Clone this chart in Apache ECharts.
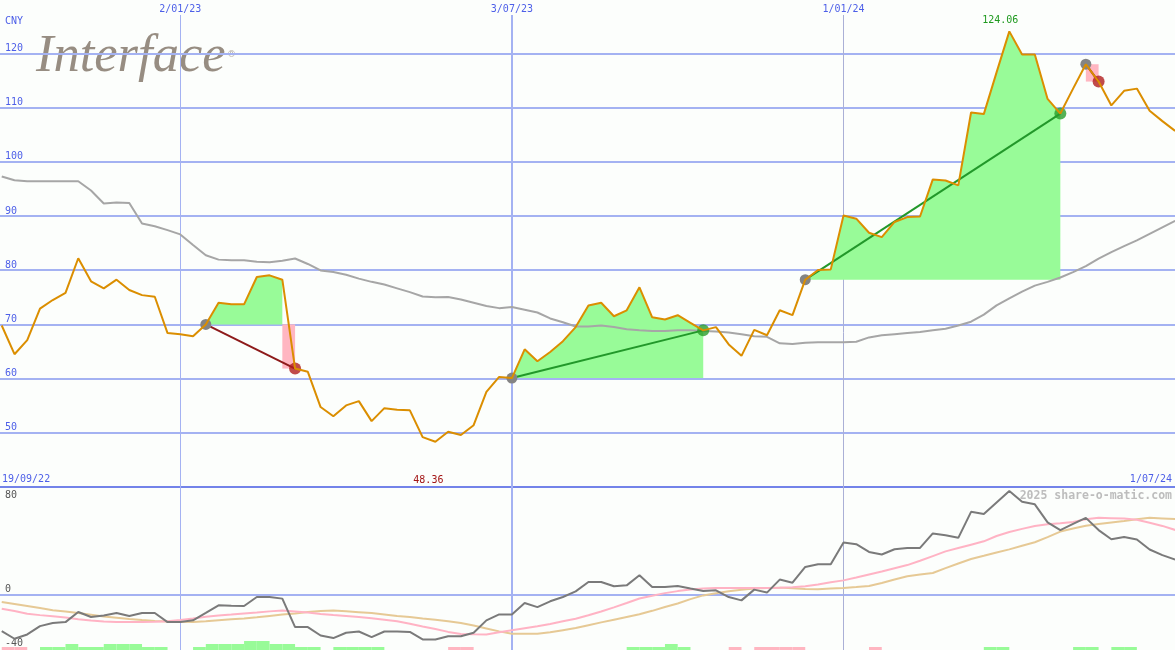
<!DOCTYPE html>
<html><head><meta charset="utf-8">
<script src="https://cdn.jsdelivr.net/npm/echarts@6/dist/echarts.min.js"></script>
<style>html,body{margin:0;padding:0;background:#fcfefc;}#c{width:1175px;height:650px;}</style>
</head><body><div id="c"></div>
<script>
// ---- data (weekly, index 0 = first visible week) ----
const price = [
  69.8, 64.5, 67.1, 72.9, 74.5, 75.8, 82.2, 77.95, 76.65, 78.25,
  76.35, 75.4, 75.1, 68.4, 68.2, 67.8, 70.0, 74.0, 73.7, 73.7,
  78.75, 79.05, 78.25, 61.85, 61.25, 54.75, 53.05, 55.05, 55.85, 52.15,
  54.55, 54.25, 54.15, 49.2, 48.36, 50.2, 49.6, 51.4, 57.55, 60.3,
  60.1, 65.4, 63.2, 64.9, 66.9, 69.5, 73.5, 74.0, 71.5, 72.6,
  76.85, 71.3, 70.9, 71.7, 70.3, 68.9, 69.5, 66.3, 64.2, 69.0,
  68.0, 72.6, 71.7, 78.25, 80.05, 80.15, 90.1, 89.5, 86.9, 86.1,
  88.9, 89.8, 89.9, 96.75, 96.55, 95.65, 109.1, 108.8, 116.5, 124.06,
  119.8, 119.8, 111.6, 108.9, 113.5, 118.0, 114.8, 110.4, 113.1, 113.5,
  109.4, 107.5, 105.7
];
const movingAvg = [
  97.3, 96.6, 96.4, 96.4, 96.4, 96.4, 96.4, 94.7, 92.3, 92.5,
  92.4, 88.6, 88.1, 87.4, 86.6, 84.65, 82.75, 81.95, 81.85, 81.85,
  81.55, 81.45, 81.75, 82.15, 81.15, 79.95, 79.65, 79.15, 78.45, 77.85,
  77.35, 76.65, 75.95, 75.15, 75.0, 75.05, 74.6, 74.0, 73.4, 73.0,
  73.2, 72.7, 72.2, 71.1, 70.4, 69.6, 69.6, 69.8, 69.5, 69.1,
  68.9, 68.8, 68.8, 68.9, 68.9, 68.8, 68.7, 68.5, 68.2, 67.8,
  67.7, 66.5, 66.4, 66.6, 66.7, 66.7, 66.7, 66.8, 67.6, 68.0,
  68.2, 68.4, 68.6, 68.9, 69.2, 69.8, 70.5, 71.8, 73.5, 74.8,
  76.05, 77.15, 77.85, 78.65, 79.65, 80.75, 82.15, 83.35, 84.45, 85.5,
  86.7, 87.9, 89.1
];
const oscillator = [
  -27.4, -33.1, -29.9, -23.7, -21.4, -20.7, -13.2, -16.9, -15.7, -13.9,
  -16.2, -13.9, -13.9, -20.7, -20.7, -19.4, -13.9, -8.2, -8.5, -8.7,
  -2.0, -2.0, -3.2, -24.4, -24.4, -30.7, -32.6, -28.6, -27.7, -31.9,
  -27.7, -27.7, -28.0, -33.6, -33.6, -31.2, -31.2, -28.6, -19.4, -15.0,
  -15.0, -6.5, -9.5, -5.2, -2.0, 2.2, 9.2, 9.2, 6.0, 6.7,
  14.2, 5.5, 5.5, 6.2, 4.3, 2.5, 3.0, -2.0, -4.5, 3.5,
  1.3, 11.0, 8.7, 20.4, 22.4, 22.4, 38.6, 37.4, 31.6, 29.7,
  33.6, 34.6, 34.6, 45.4, 44.1, 42.1, 61.5, 59.8, 68.5, 77.0,
  69.0, 67.1, 53.6, 47.9, 52.5, 57.0, 47.9, 41.1, 42.8, 40.9,
  33.4, 29.2, 25.9
];
const signalPink = [
  -10.7, -12.5, -14.4, -15.5, -16.4, -17.3, -18.5, -19.5, -20.3, -20.7,
  -20.7, -20.7, -20.5, -20.0, -19.2, -18.0, -16.7, -15.7, -15.0, -14.2,
  -13.5, -12.7, -12.0, -12.8, -13.6, -14.6, -15.4, -16.1, -16.9, -17.9,
  -19.0, -20.1, -22.0, -24.0, -25.8, -28.0, -29.5, -29.8, -29.9, -28.3,
  -26.8, -25.3, -23.8, -22.1, -20.1, -18.2, -15.6, -12.8, -9.7, -6.5,
  -3.1, -1.0, 0.9, 2.4, 3.6, 4.4, 4.7, 4.7, 4.7, 4.7,
  4.7, 4.9, 5.3, 6.0, 7.3, 9.0, 10.4, 12.5, 14.8, 17.0,
  19.5, 21.8, 25.0, 28.5, 32.0, 34.5, 37.0, 39.5, 43.5, 46.5,
  48.8, 51.0, 52.2, 52.9, 54.0, 56.0, 57.0, 56.8, 56.5, 55.6,
  53.4, 51.0, 48.0
];
const signalTan = [
  -5.7, -7.2, -8.7, -10.2, -11.8, -12.8, -14.0, -15.2, -16.5, -17.4,
  -18.4, -19.2, -19.8, -20.2, -20.5, -20.6, -20.0, -19.3, -18.6, -18.0,
  -17.1, -16.1, -15.1, -14.2, -13.2, -12.5, -12.0, -12.6, -13.3, -14.0,
  -15.0, -16.1, -16.9, -18.0, -19.0, -20.1, -21.4, -23.2, -25.4, -27.6,
  -29.4, -29.4, -29.4, -28.3, -26.7, -25.1, -23.0, -20.9, -18.9, -16.9,
  -14.9, -12.3, -9.5, -6.8, -3.6, -0.8, 0.8, 2.3, 3.4, 4.4,
  4.8, 5.0, 4.5, 4.0, 3.8, 4.3, 4.8, 5.4, 6.2, 8.5,
  11.0, 13.5, 14.8, 15.9, 19.5, 23.0, 26.3, 28.7, 31.2, 33.5,
  36.2, 38.8, 42.6, 46.8, 49.0, 51.1, 52.4, 53.5, 54.6, 56.0,
  57.0, 56.6, 56.1
];
const histogram = [
  -1, -1, 0, 1, 1, 2, 1, 1, 2, 2,
  2, 1, 1, 0, 0, 1, 2, 2, 2, 3,
  3, 2, 2, 1, 1, 0, 1, 1, 1, 1,
  0, 0, 0, 0, 0, -1, -1, 0, 0, 0,
  0, 0, 0, 0, 0, 0, 0, 0, 0, 1,
  1, 1, 2, 1, 0, 0, 0, -1, 0, -1,
  -1, -1, -1, 0, 0, 0, 0, 0, -1, 0,
  0, 0, 0, 0, 0, 0, 0, 1, 1, 0,
  0, 0, 0, 0, 1, 1, 0, 1, 1, 0,
  0, 0, 0
];
const trades = [[16, 23], [40, 55], [63, 83], [85, 86]]; // [entry week, exit week]
const dateMarks = [['2/01/23', 14], ['3/07/23', 40], ['1/01/24', 66]];
const priceTicks = [50, 60, 70, 80, 90, 100, 110, 120];
const oscTicksLow = [-40, 0];
const oscTicksHigh = [80];
const startLabel = '19/09/22', endLabel = '1/07/24', currency = 'CNY';
const brand = 'Interface', credit = '2025 share-o-matic.com';

// ---- styles ----
const BG = '#fcfefc', BLUE = '#4d5fe8', GRID = '#a4b2f2', SEP = '#7383e9';
const MONO = '"DejaVu Sans Mono", monospace';
const dateLineStyles = [{color: '#a4b2f2', width: 1}, {color: '#a4b2f2', width: 2}, {color: '#aab0d6', width: 1}];
const X_MIN = -0.136, X_MAX = 91.99;

const chart = echarts.init(document.getElementById('c'), null, {renderer: 'canvas'});
const series = [];

// vertical date lines + labels
series.push({
  type: 'custom', xAxisIndex: 0, yAxisIndex: 0, clip: false, z: 1, silent: true,
  data: dateMarks.map(d => [d[1], 100]),
  renderItem(params, api) {
    const i = params.dataIndex;
    const x0 = api.coord([api.value(0), 100])[0];
    const st = dateLineStyles[i];
    const x = st.width % 2 ? Math.round(x0 - 0.5) + 0.5 : Math.round(x0);
    return {type: 'group', children: [
      {type: 'line', shape: {x1: x, y1: 15, x2: x, y2: 650}, style: {stroke: st.color, lineWidth: st.width}},
      {type: 'text', x: x0, y: 9, style: {text: dateMarks[i][0], fill: BLUE, font: '10px ' + MONO, align: 'center', verticalAlign: 'middle', textAlign: 'center', textVerticalAlign: 'middle'}}
    ]};
  }
});

// green gain areas
trades.forEach(([a, b]) => {
  const base = price[a];
  let end = b;
  if (price[b] < base) { end = a; for (let j = a + 1; j < b; j++) if (price[j] > base) end = j; }
  if (end > a) {
    const d = []; for (let j = a; j <= end; j++) d.push([j, price[j]]);
    series.push({type: 'line', xAxisIndex: 0, yAxisIndex: 0, data: d, symbol: 'none', silent: true, z: 2,
      lineStyle: {width: 0}, areaStyle: {color: '#98fb98', opacity: 1, origin: base}});
  }
});

// pink loss blocks
series.push({
  type: 'custom', xAxisIndex: 0, yAxisIndex: 0, z: 2, silent: true,
  data: trades.filter(([a, b]) => price[b] < price[a]).map(([a, b]) => [b, price[a], price[b]]),
  renderItem(params, api) {
    const p0 = api.coord([api.value(0) - 1, api.value(1)]);
    const p1 = api.coord([api.value(0), api.value(2)]);
    return {type: 'rect', shape: {x: p0[0], y: p0[1], width: p1[0] - p0[0], height: p1[1] - p0[1]}, style: {fill: '#ffb6c1'}};
  }
});

// moving average
series.push({type: 'line', xAxisIndex: 0, yAxisIndex: 0, data: movingAvg.map((v, j) => [j, v]), symbol: 'none', z: 3, silent: true,
  lineStyle: {color: '#a6a6a6', width: 2}});

// trade lines
trades.forEach(([a, b]) => {
  const win = price[b] >= price[a];
  series.push({type: 'line', xAxisIndex: 0, yAxisIndex: 0, data: [[a, price[a]], [b, price[b]]], symbol: 'none', z: 4, silent: true,
    lineStyle: {color: win ? '#22982a' : '#8e1b1b', width: 2}});
});

// entry / exit dots
series.push({type: 'scatter', xAxisIndex: 0, yAxisIndex: 0, z: 5, silent: true, symbolSize: 11,
  data: trades.map(([a]) => [a, price[a]]), itemStyle: {color: '#848484', opacity: 1}});
series.push({type: 'scatter', xAxisIndex: 0, yAxisIndex: 0, z: 5, silent: true, symbolSize: 12,
  data: trades.map(([a, b]) => ({value: [b, price[b]], itemStyle: {color: price[b] >= price[a] ? '#2a9e2a' : '#b01e1e'}}))});

// price line with max / min labels
series.push({type: 'line', xAxisIndex: 0, yAxisIndex: 0, data: price.map((v, j) => [j, v]), symbol: 'none', z: 6, silent: true,
  lineStyle: {color: '#db8e00', width: 2},
  markPoint: {symbol: 'circle', symbolSize: 1, itemStyle: {color: 'rgba(0,0,0,0)'}, silent: true,
    data: [
      {type: 'max', label: {show: true, position: 'top', distance: 5, offset: [-9, 0], color: '#1f9a1f', fontFamily: MONO, fontSize: 10, formatter: p => p.value.toFixed(2)}},
      {type: 'min', label: {show: true, position: 'inside', offset: [-7, 39], color: '#a31515', fontFamily: MONO, fontSize: 10, formatter: p => p.value.toFixed(2)}}
    ]}});

// lower panel
series.push({type: 'line', xAxisIndex: 1, yAxisIndex: 1, data: signalTan.map((v, j) => [j, v]), symbol: 'none', z: 3, silent: true, lineStyle: {color: '#e6c995', width: 2}});
series.push({type: 'line', xAxisIndex: 1, yAxisIndex: 1, data: signalPink.map((v, j) => [j, v]), symbol: 'none', z: 3, silent: true, lineStyle: {color: '#ffb3c4', width: 2}});
series.push({type: 'line', xAxisIndex: 1, yAxisIndex: 1, data: oscillator.map((v, j) => [j, v]), symbol: 'none', z: 4, silent: true, lineStyle: {color: '#7a7a7a', width: 2}});

// histogram strip
series.push({
  type: 'custom', xAxisIndex: 2, yAxisIndex: 3, z: 3, silent: true,
  data: histogram.map((v, j) => [j, v]).filter(d => d[1] !== 0),
  renderItem(params, api) {
    const v = api.value(1);
    const p0 = api.coord([api.value(0), Math.abs(v)]);
    const p1 = api.coord([api.value(0) + 1, 0]);
    return {type: 'rect', shape: {x: p0[0], y: p0[1], width: p1[0] - p0[0], height: p1[1] - p0[1]}, style: {fill: v > 0 ? '#98fb98' : '#ffb6c1'}};
  }
});

const xa = i => ({type: 'value', gridIndex: i, min: X_MIN, max: X_MAX, show: false, splitLine: {show: false}});
const lbl = {inside: true, margin: 5, fontFamily: MONO, fontSize: 10};

chart.setOption({
  backgroundColor: BG,
  animation: false,
  grid: [
    {left: 0, right: 0, top: 0, height: 487},
    {left: 0, right: 0, top: 487, height: 161},
    {left: 0, right: 0, top: 641, height: 9}
  ],
  xAxis: [xa(0), xa(1), xa(2)],
  yAxis: [
    {type: 'value', gridIndex: 0, position: 'left', min: 40, max: 129.85, interval: 10,
      axisLine: {show: false}, axisTick: {show: false},
      splitLine: {show: true, lineStyle: {width: 2, color: [SEP, GRID, GRID, GRID, GRID, GRID, GRID, GRID, GRID, 'rgba(0,0,0,0)', 'rgba(0,0,0,0)']}},
      axisLabel: Object.assign({}, lbl, {color: BLUE, verticalAlign: 'bottom', formatter: v => priceTicks.includes(v) ? String(v) : ''})},
    {type: 'value', gridIndex: 1, position: 'left', min: -40, max: 80, interval: 40,
      axisLine: {show: false}, axisTick: {show: false},
      splitLine: {show: true, lineStyle: {width: 2, color: ['rgba(0,0,0,0)', GRID, 'rgba(0,0,0,0)', 'rgba(0,0,0,0)']}},
      axisLabel: Object.assign({}, lbl, {color: '#555', verticalAlign: 'bottom', formatter: v => oscTicksLow.includes(v) ? String(v) : ''})},
    {type: 'value', gridIndex: 1, position: 'left', offset: 0, min: -40, max: 80, interval: 40,
      axisLine: {show: false}, axisTick: {show: false}, splitLine: {show: false},
      axisLabel: Object.assign({}, lbl, {color: '#555', verticalAlign: 'top', padding: [3, 0, 0, 0], formatter: v => oscTicksHigh.includes(v) ? String(v) : ''})},
    {type: 'value', gridIndex: 2, min: 0, max: 3, show: false, splitLine: {show: false}}
  ],
  series: series,
  graphic: [
    {type: 'group', z: 100, children: [
      {type: 'rect', shape: {x: 35, y: 35, width: 198, height: 53}, style: {fill: BG}},
      {type: 'text', x: 36, y: 57, style: {text: brand, fill: '#978d82', font: 'italic 52.5px "Liberation Serif", serif', align: 'left', verticalAlign: 'middle', textAlign: 'left', textVerticalAlign: 'middle'}},
      {type: 'text', x: 227, y: 55, style: {text: '®', fill: '#b0a89f', font: '9px "DejaVu Sans", sans-serif', align: 'left', verticalAlign: 'middle', textAlign: 'left', textVerticalAlign: 'middle'}}
    ]},
    {type: 'text', z: 100, x: 5, y: 21, style: {text: currency, fill: BLUE, font: '10px ' + MONO, align: 'left', verticalAlign: 'middle', textAlign: 'left', textVerticalAlign: 'middle'}},
    {type: 'text', z: 100, x: 2, y: 479, style: {text: startLabel, fill: BLUE, font: '10px ' + MONO, align: 'left', verticalAlign: 'middle', textAlign: 'left', textVerticalAlign: 'middle'}},
    {type: 'text', z: 100, x: 1172, y: 479, style: {text: endLabel, fill: BLUE, font: '10px ' + MONO, align: 'right', verticalAlign: 'middle', textAlign: 'right', textVerticalAlign: 'middle'}},
    {type: 'text', z: 100, x: 1172, y: 496, style: {text: credit, fill: '#bdbdbd', font: 'bold 11.5px ' + MONO, align: 'right', verticalAlign: 'middle', textAlign: 'right', textVerticalAlign: 'middle'}}
  ]
});
</script>
</body></html>
